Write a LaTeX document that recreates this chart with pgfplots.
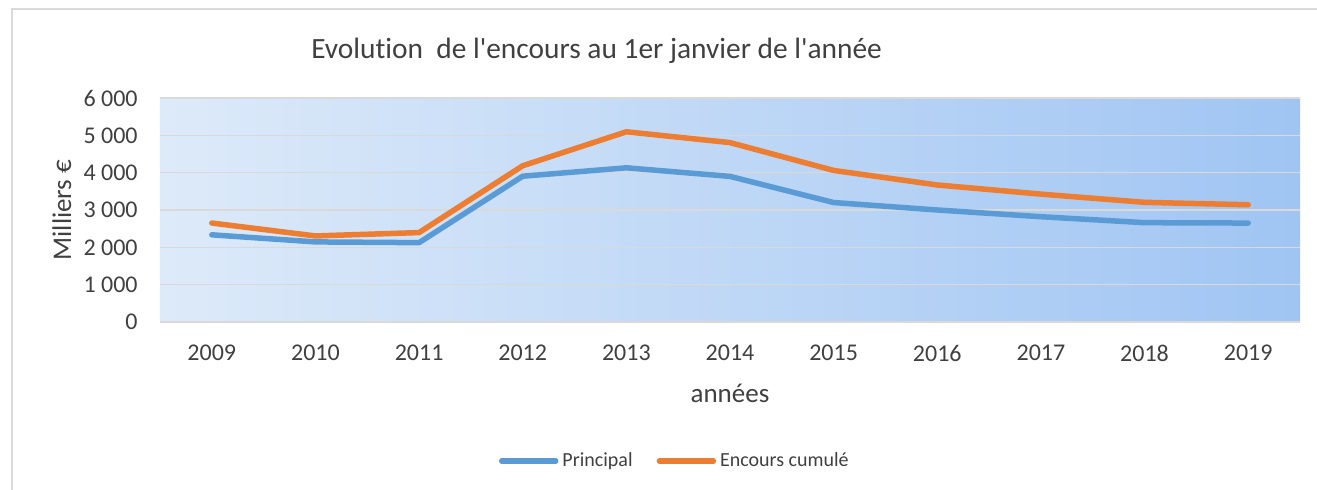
\documentclass[border=0pt]{standalone}
\usepackage{pgfplots}
\pgfplotsset{compat=1.18}
\usepackage{fontspec}
\setmainfont{Carlito}[Ligatures={NoCommon}]
\definecolor{cblue}{HTML}{5B9BD5}
\definecolor{corange}{HTML}{ED7D31}
\definecolor{ctext}{HTML}{404040}
\definecolor{cgrid}{HTML}{D9D9D9}
\definecolor{bgl}{HTML}{DDEAF9}
\definecolor{bgr}{HTML}{A0C5F3}
\begin{document}
\begin{tikzpicture}
\path[use as bounding box] (0,0) rectangle (658.5pt,245pt);
\draw[cgrid, line width=1pt] (5.75pt,0) -- (5.75pt,240.25pt) -- (658.5pt,240.25pt);
\begin{axis}[
  at={(80pt,84pt)}, anchor=south west,
  scale only axis, width=570pt, height=112pt,
  xmin=-0.5, xmax=10.5, ymin=0, ymax=6000,
  xtick={0,...,10},
  xticklabels={2009,2010,2011,2012,2013,2014,2015,2016,2017,2018,2019},
  ytick={0,1000,...,6000},
  /pgf/number format/assume math mode=true,
  /pgf/number format/1000 sep={\ },
  major tick length=0pt,
  axis line style={draw=none},
  ymajorgrids, major grid style={cgrid, line width=0.75pt},
  axis background/.style={left color=bgl, right color=bgr},
  tick label style={font=\fontsize{12}{14}\selectfont, text=ctext, inner sep=0pt},
  yticklabel style={anchor=east, xshift=-11pt},
  xticklabel style={anchor=north, yshift=-11.5pt},
  xlabel={années}, ylabel={Milliers €},
  label style={font=\fontsize{13.5}{16}\selectfont, text=ctext},
  xlabel style={at={(axis description cs:0.5,-0.317)}, anchor=center},
  ylabel style={at={(axis description cs:-0.0860,0.5)}, anchor=center},
  every axis title shift=0pt,
  title={Evolution\ \ de l\textquotesingle encours au 1er janvier de l\textquotesingle année},
  title style={at={(axis description cs:0.383,1.21)}, anchor=center, font=\fontsize{14.7}{18}\selectfont, text=ctext},
  legend columns=2,
  legend style={at={(axis description cs:0.4525,-0.6205)}, anchor=center, draw=none, fill=none,
    font=\fontsize{10}{12}\selectfont, text=ctext,
    /tikz/every even column/.append style={column sep=10pt}},
  legend image code/.code={\draw[#1, line cap=round] (0pt,0pt) -- (27pt,0pt);},
  every axis plot/.append style={line width=2.75pt, line join=round, line cap=round},
]
\addplot[cblue] coordinates {(0,2335) (1,2145) (2,2125) (3,3905) (4,4130) (5,3900) (6,3200) (7,3000) (8,2820) (9,2660) (10,2650)};
\addlegendentry{Principal}
\addplot[corange] coordinates {(0,2650) (1,2305) (2,2395) (3,4185) (4,5095) (5,4805) (6,4060) (7,3670) (8,3425) (9,3205) (10,3140)};
\addlegendentry{Encours cumulé}
\end{axis}
\end{tikzpicture}
\end{document}
